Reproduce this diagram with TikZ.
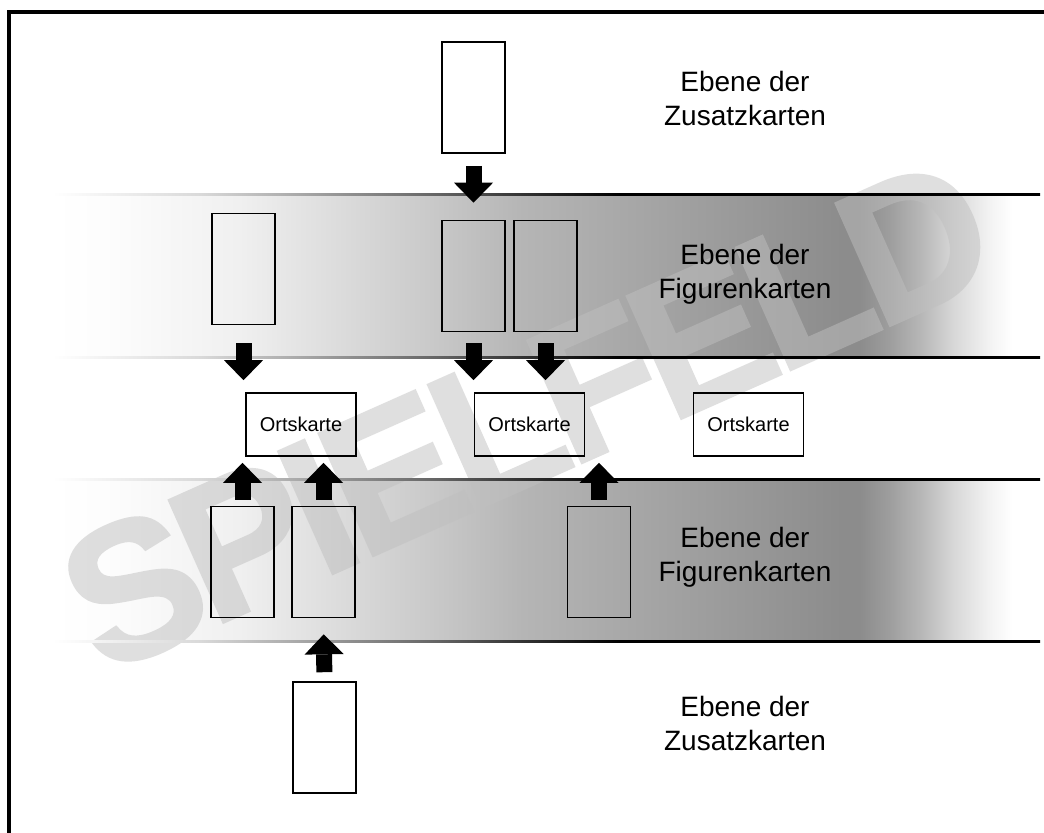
\documentclass[tikz,border=0pt]{standalone}
\usepackage{fontspec}
\setmainfont{Liberation Sans}
\newfontfamily\wmfont{Liberation Sans}[FakeBold=1.5,LetterSpace=-5]
\usetikzlibrary{arrows.meta}
\pgfdeclarehorizontalshading{bandfill}{100bp}{color(0bp)=(white); color(25bp)=(white);
  color(27.9bp)=(black!1); color(34.5bp)=(black!6); color(44.7bp)=(black!22);
  color(48.8bp)=(black!29); color(57.8bp)=(black!38); color(64.9bp)=(black!45);
  color(65.9bp)=(black!45); color(67.4bp)=(black!38); color(69bp)=(black!28);
  color(70.7bp)=(black!15); color(72.4bp)=(black!5); color(73.6bp)=(white); color(100bp)=(white)}
\pgfdeclarehorizontalshading{bandline}{100bp}{color(0bp)=(white); color(25bp)=(white);
  color(32.5bp)=(black!15); color(39bp)=(black!40); color(44.3bp)=(black!60);
  color(48.8bp)=(black!80); color(53.7bp)=(black); color(100bp)=(black)}
\begin{document}
\begin{tikzpicture}[x=.5pt,y=-.5pt,
  card/.style={draw,line width=.8pt,minimum width=31.5pt,minimum height=55.5pt,inner sep=0pt},
  ort/.style={draw,line width=.8pt,minimum width=55pt,minimum height=31.5pt,inner sep=0pt,
    font=\fontsize{10}{12}\selectfont},
  lbl/.style={align=center,font=\fontsize{14}{17}\selectfont},
  wmark/.style={rotate=24,text=black!25,font=\wmfont\bfseries\fontsize{97}{97}\selectfont},
  pfeil/.style={line width=8pt,-{Triangle[width=19.5pt,length=10pt,line width=0pt]}}]
\useasboundingbox (0,0) rectangle (1044,832);
\clip (0,0) rectangle (1044,832);
\draw[line width=2pt] (9,11.5) rectangle (1070,860);

% Ebenen
\shade[shading=bandfill] (53,194) rectangle (1040,357);
\shade[shading=bandfill] (53,479) rectangle (1040,641);
\begin{scope}[transparency group,opacity=.5]
\node[wmark] (wm) at (527,414) {SPIELFELD};
\end{scope}
\shade[shading=bandline] (53,193) rectangle (1040,195);
\shade[shading=bandline] (53,356) rectangle (1040,358);
\shade[shading=bandline] (53,478) rectangle (1040,480);
\shade[shading=bandline] (53,640) rectangle (1040,642);

\node[card] (zus1) at (473.5,97.5) {};
\node[card] (fig1) at (243.5,269) {};
\node[card] (fig2) at (473.5,276) {};
\node[card] (fig3) at (545.5,276) {};
\node[card] (fig4) at (242.5,562) {};
\node[card] (fig5) at (323.5,562) {};
\node[card] (fig6) at (599,562) {};
\node[card] (zus2) at (324.5,737.5) {};

\node[ort] (ort1) at (301,424.5) {Ortskarte};
\node[ort] (ort2) at (529.5,424.5) {Ortskarte};
\node[ort] (ort3) at (748.5,424.5) {Ortskarte};

\node[lbl] (lzus1) at (745,98) {Ebene der\\Zusatzkarten};
\node[lbl] (lfig1) at (745,274) {Ebene der\\Figurenkarten};
\node[lbl] (lfig2) at (745,557) {Ebene der\\Figurenkarten};
\node[lbl] (lzus2) at (745,723) {Ebene der\\Zusatzkarten};

\draw[pfeil,shorten <=6pt,shorten >=8.5pt] (zus1.south) -- (fig2.north);
\draw[pfeil,shorten <=9pt,shorten >=6pt] (fig1.south) -- (fig1.south |- ort1.north);
\draw[pfeil,shorten <=5.5pt,shorten >=6pt] (fig2.south) -- (fig2.south |- ort2.north);
\draw[pfeil,shorten <=5.5pt,shorten >=6pt] (fig3.south) -- (fig3.south |- ort2.north);
\draw[pfeil,shorten <=3pt,shorten >=3pt] (fig4.north) -- (fig4.north |- ort1.south);
\draw[pfeil,shorten <=3pt,shorten >=3pt] (fig5.north) -- (fig5.north |- ort1.south);
\draw[pfeil,shorten <=3pt,shorten >=3pt] (fig6.north) -- (fig6.north |- ort2.south);
\draw[pfeil,shorten <=4.5pt,shorten >=8pt] (zus2.north) -- (fig5.south);
\end{tikzpicture}
\end{document}
